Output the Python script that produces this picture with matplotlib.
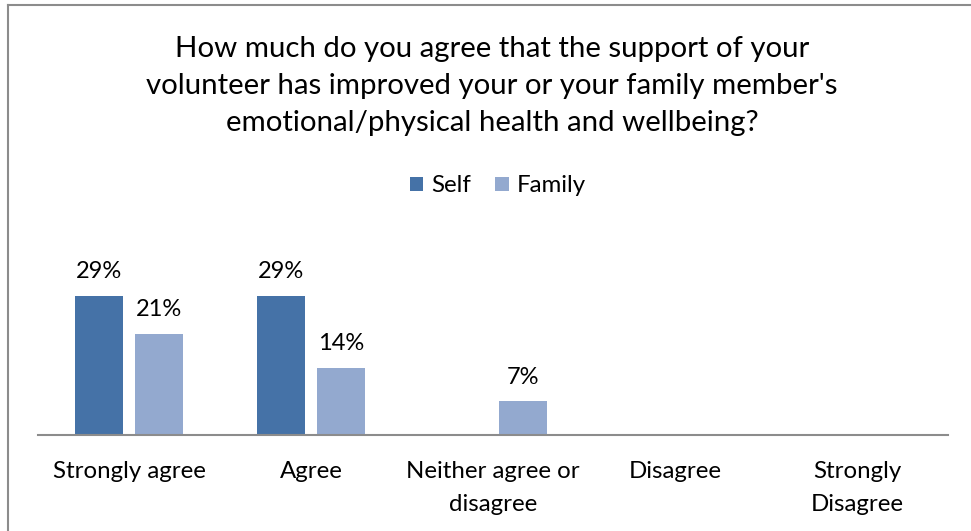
import numpy as np
import matplotlib.pyplot as plt
from matplotlib.lines import Line2D

plt.rcParams['font.family'] = ['Lato', 'DejaVu Sans']

categories = ["Strongly agree", "Agree", "Neither agree or\ndisagree", "Disagree", "Strongly\nDisagree"]
self_vals = [0.29, 0.29, 0.0, 0.0, 0.0]
family_vals = [0.21, 0.14, 0.07, 0.0, 0.0]
title = ("How much do you agree that the support of your\n"
         "volunteer has improved your or your family member's\n"
         "emotional/physical health and wellbeing?")

W, H = 971, 531
fig = plt.figure(figsize=(W / 100, H / 100), dpi=100)

# chart frame (left and top edges visible)
fig.add_artist(Line2D([8 / W, 8 / W], [0, 1 - 5 / H], color='#8c8c8c', lw=1.5))
fig.add_artist(Line2D([8 / W, 1], [1 - 5 / H, 1 - 5 / H], color='#8c8c8c', lw=1.5))

ax = fig.add_axes([38 / W, 1 - 435 / H, 910 / W, 192 / H])
x = np.arange(len(categories))
w = 0.264
ax.bar(x - 0.033 - w / 2, self_vals, w, color='#4572a7', label='Self')
ax.bar(x + 0.033 + w / 2, family_vals, w, color='#93a9cf', label='Family')
for cont in ax.containers:
    for r in cont:
        if r.get_height() > 0:
            ax.annotate(f"{r.get_height():.0%}", (r.get_x() + r.get_width() / 2, r.get_height()),
                        xytext=(0, 10), textcoords='offset points', ha='center', va='bottom',
                        fontsize=17)

ax.set_xlim(-0.5, len(categories) - 0.5)
ax.set_ylim(0, 0.40)
for s in ['top', 'right', 'left']:
    ax.spines[s].set_visible(False)
ax.spines['bottom'].set_color('#8c8c8c')
ax.spines['bottom'].set_linewidth(1.5)
ax.set_yticks([])
ax.set_xticks(x)
ax.set_xticklabels(categories, fontsize=17.3, linespacing=1.68, va='top')
ax.tick_params(axis='x', length=0, pad=19)

fig.text(492 / W, 1 - 86 / H, title, ha='center', va='center', fontsize=21.2, linespacing=1.52)
fig.legend(handles=ax.containers, labels=['Self', 'Family'],
           loc='center', bbox_to_anchor=(498 / W, 1 - 186 / H), ncol=2, frameon=False,
           fontsize=17.3, handlelength=0.55, handleheight=0.55, handletextpad=0.35,
           columnspacing=1.0)

fig.savefig('out.png', dpi=100)
